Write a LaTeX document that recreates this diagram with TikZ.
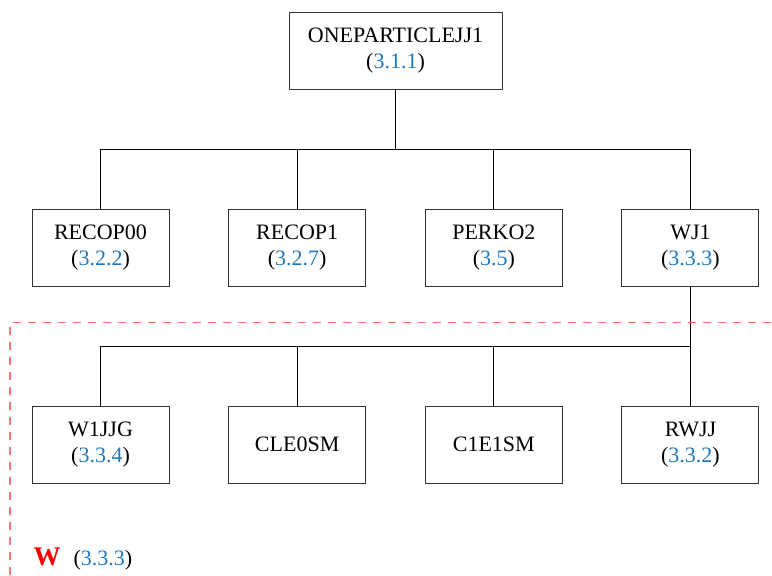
\documentclass[tikz,border=0pt]{standalone}
\usepackage{xcolor}
\usepackage{fontspec}
\setmainfont{Liberation Serif}
\usetikzlibrary{trees}
\definecolor{refblue}{RGB}{31,120,190}
\newcommand{\secno}[1]{(\textcolor{refblue}{#1})}
\begin{document}
\begin{tikzpicture}
            [line width=0.5pt, font=\fontsize{11}{13}\selectfont,
            refbox/.style={draw=black!80, minimum width=68.5pt, minimum height=38.5pt, align=center},
            every child node/.style={refbox},
            edge from parent/.style={draw=black},
            edge from parent path={(\tikzparentnode.south) -- +(0,-30pt) -| (\tikzchildnode.north)},
            level distance=98.5pt, sibling distance=98.33pt]
            \useasboundingbox (0,0) rectangle (386pt,-287.5pt);
            \node [refbox, minimum width=106.5pt] (oneparticle) at (197.75pt,-25.25pt) {ONEPARTICLEJJ1\\\secno{3.1.1}}
            child {
                node (recop00) {RECOP00\\\secno{3.2.2}}
            }
            child {
                node (recop1) {RECOP1\\\secno{3.2.7}}
            }
            child {
                node (perko2) {PERKO2\\\secno{3.5}}
            }
            child {
                node (wj1) {WJ1\\\secno{3.3.3}}
                [grow via three points={one child at (0,-98.5pt) and two children at (-98.33pt,-98.5pt) and (0,-98.5pt)}]
                child {
                    node (w1jjg) {W1JJG\\\secno{3.3.4}}
                }
                child {
                    node (cle0sm) {CLE0SM}
                }
                child {
                    node (c1e1sm) {C1E1SM}
                }
                child {
                    node (rwjj) {RWJJ\\\secno{3.3.2}}
                }
            };
            % region of W
            \coordinate (wbottom) at (5pt,-287.5pt);
            \coordinate (wcorner) at (5pt,-161.35pt);
            \coordinate (wright) at (386pt,-161.35pt);
            \draw [red!55, line width=0.7pt, dash pattern=on 4pt off 3.5pt] (wbottom) -- (wcorner) -- (wright);
            \node [anchor=base west, inner sep=0pt, text=red, font=\bfseries\fontsize{13.5}{15}\selectfont] (wlabel) at (16.5pt,-282.5pt) {W};
            \node [anchor=base west, inner sep=0pt] (wref) at (36.5pt,-282.5pt) {\secno{3.3.3}};
\end{tikzpicture}
\end{document}
